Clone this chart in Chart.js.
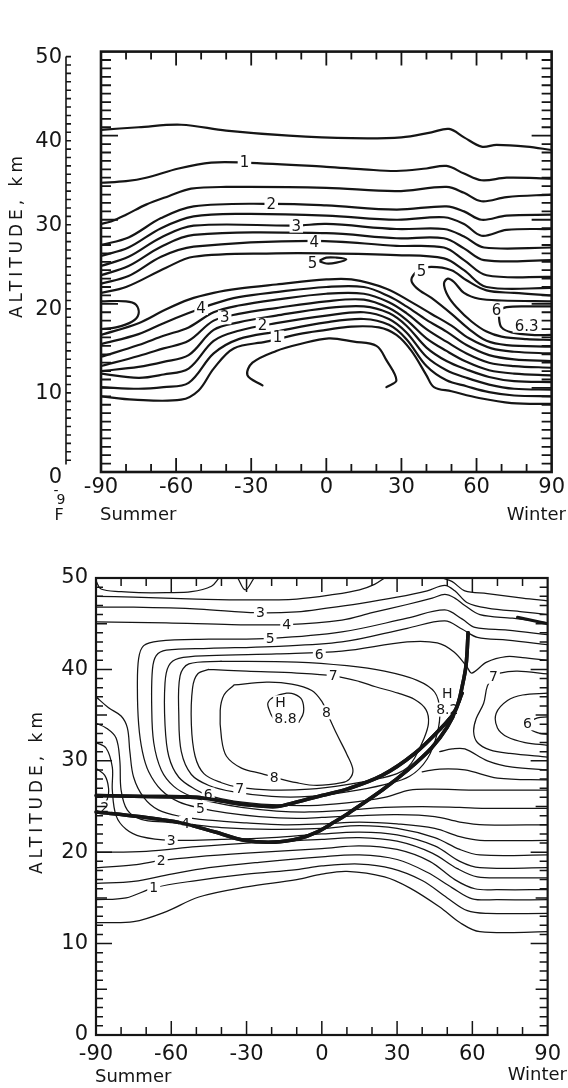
<!DOCTYPE html>
<html>
<head>
<meta charset="utf-8">
<script src="https://cdn.jsdelivr.net/npm/chart.js@4.4.1/dist/chart.umd.min.js"></script>
<style>
  body { margin: 0; background: #fff; }
  canvas { display: block; }
</style>
</head>
<body>
<canvas id="topChart" width="568" height="540"></canvas>
<canvas id="bottomChart" width="568" height="548"></canvas>
<script>
// axis ticks and texts
const latTicks = [-90, -60, -30, 0, 30, 60, 90];
const altTicks = [0, 10, 20, 30, 40, 50];
const yTitle = 'ALTITUDE, km';
const leftNote = 'Summer';
const rightNote = 'Winter';

// ---- upper panel: contour lines as [latitude, altitude km] ----
const top05 = [[-90,40.7],[-75,41.0],[-58,41.3],[-40,40.6],[-15,40.0],[10,39.7],[30,39.8],[42,40.4],[49,40.8],[55,39.8],[62,38.7],[68,38.9],[80,38.7],[90,38.3]];
const top1 = [[-90,34.4],[-80,34.6],[-72,35.0],[-59,36.1],[-46,36.8],[-33,36.8],[0,36.3],[15,36.0],[28,35.8],[40,36.1],[48,36.4],[55,35.5],[62,34.7],[72,35.0],[90,34.9]];
const top15 = [[-90,29.5],[-86,29.8],[-80,30.6],[-72,31.8],[-63,32.8],[-54,33.7],[-40,33.9],[0,33.8],[28,33.4],[48,33.9],[55,33.2],[62,32.2],[72,32.7],[90,33.0]];
const top2 = [[-90,27.0],[-79,27.9],[-66,30.2],[-53,31.6],[-22,31.9],[0,31.7],[28,31.2],[48,31.6],[55,31.0],[62,30.0],[72,30.5],[90,30.6]];
const top25 = [[-90,25.7],[-79,26.7],[-66,29.0],[-53,30.4],[-33,30.7],[0,30.5],[28,30.0],[47,30.3],[55,29.5],[62,28.1],[72,28.8],[90,28.9]];
const top3 = [[-90,24.5],[-79,25.6],[-66,27.9],[-53,29.3],[-12,29.3],[0,29.5],[28,28.9],[47,28.9],[55,28.0],[63,26.7],[90,26.7]];
const top35 = [[-90,23.4],[-79,24.5],[-66,26.8],[-53,28.2],[0,28.4],[28,27.8],[47,27.8],[55,26.6],[63,25.2],[90,25.2]];
const top4 = [[-90,22.4],[-79,23.3],[-66,25.6],[-53,26.8],[-5,27.5],[28,26.9],[47,26.7],[55,25.2],[64,23.4],[90,23.2]];
const top45 = [[-90,21.3],[-80,22.0],[-64,24.3],[-53,25.6],[-20,26.0],[0,26.0],[28,25.8],[47,25.4],[55,24.0],[64,22.0],[90,21.9]];
const topLeft5 = [[-90,20.3],[-80,20.3],[-76,19.9],[-75,18.8],[-77.5,17.9],[-84,17.2],[-90,17.0]];
const topMid5 = [[-3,25.1],[0,25.5],[4,25.5],[8,25.3],[4,24.9],[0,24.8],[-3,25.1]];
const topRight5 = [[90,21.0],[75,21.3],[64,21.6],[56,22.8],[50,24.0],[42,24.4],[37,24.0],[34,22.9],[36,21.9],[42,20.7],[50,18.8],[57,17.0],[64,15.6],[72,15.1],[90,14.9]];
const topRight55 = [[90,20.3],[70,20.4],[61,20.6],[55,21.3],[51,22.6],[48.5,23.0],[47,22.4],[48.5,21.0],[52,19.6],[58,17.9],[64,16.7],[70,16.1],[80,15.8],[90,15.7]];
const topRight6 = [[90,19.7],[80,19.7],[72,19.6],[69.5,19.2],[69,18.3],[70,17.2],[74,16.6],[82,16.3],[90,16.3]];
const low45 = [[-90,16.3],[-75,17.7],[-65,19.2],[-55,20.5],[-45,21.3],[-35,21.8],[-20,22.3],[0,22.9],[10,22.9],[24,21.8],[34,20.2],[42,18.8],[50,17.4],[57,15.9],[66,14.7],[75,14.3],[90,14.1]];
const low4 = [[-90,15.2],[-75,16.4],[-65,17.7],[-55,18.9],[-45,20.0],[-35,20.8],[-20,21.4],[0,22.0],[15,22.0],[25,20.9],[32,19.7],[40,18.1],[48,16.7],[56,15.1],[65,13.9],[75,13.4],[90,13.2]];
const low35 = [[-90,13.7],[-75,15.1],[-65,16.2],[-55,17.2],[-45,19.0],[-35,19.8],[-20,20.5],[0,21.2],[15,21.2],[25,20.2],[32,18.9],[40,17.0],[48,15.5],[56,14.1],[65,13.0],[75,12.6],[90,12.4]];
const low3 = [[-90,12.6],[-75,13.8],[-65,14.7],[-55,15.6],[-45,18.0],[-35,18.8],[-20,19.5],[0,20.3],[15,20.5],[25,19.5],[32,18.1],[40,15.9],[48,14.4],[56,13.1],[65,12.1],[75,11.7],[90,11.5]];
const low25 = [[-90,12.0],[-75,12.5],[-65,13.1],[-55,13.9],[-45,16.9],[-35,17.8],[-20,18.6],[0,19.5],[15,19.7],[25,18.9],[32,17.4],[40,14.8],[48,13.2],[56,12.2],[65,11.3],[75,10.8],[90,10.7]];
const low2 = [[-90,11.7],[-75,11.2],[-65,11.6],[-55,12.3],[-45,15.6],[-35,16.8],[-20,17.7],[0,18.6],[15,19.0],[25,18.2],[32,16.6],[40,13.7],[48,12.1],[56,11.2],[65,10.4],[75,9.9],[90,9.8]];
const low15 = [[-90,10.1],[-75,9.9],[-65,10.1],[-55,10.6],[-45,14.1],[-35,15.8],[-20,16.7],[0,17.8],[15,18.2],[25,17.5],[32,15.8],[40,12.6],[48,10.9],[56,10.2],[65,9.5],[75,9.1],[90,9.0]];
const low1 = [[-90,9.0],[-77,8.6],[-58,8.6],[-51,9.7],[-45,12.3],[-37,14.7],[-24,15.5],[-11,16.4],[0,16.9],[10,17.3],[21,17.2],[28,16.3],[34,14.4],[40,11.5],[43,10.1],[50,9.6],[61,8.8],[74,8.2],[90,8.1]];
const low05 = [[24,10.1],[28,10.9],[24,13.3],[20,15.0],[11,15.5],[1,15.9],[-10.8,15.2],[-20,14.4],[-29.5,13.0],[-31.5,11.5],[-25.5,10.3]];
const topLabels = [[-32.7,36.8,'1'],[-22,31.9,'2'],[-12,29.3,'3'],[-4.8,27.4,'4'],[-5.5,24.8,'5'],[38,23.9,'5'],
  [-50,19.5,'4'],[-40.6,18.4,'3'],[-25.5,17.5,'2'],[-19.5,16.0,'1'],[68,19.3,'6'],[80,17.4,'6.3']];

// ---- lower panel ----
const botWave = [[-90,49.7],[-88,48.8],[-80,48.5],[-73,48.4],[-62,48.4],[-52,48.5],[-44,49.1],[-41,50]];
const botV = [[-33.5,50],[-30.5,48.7],[-27,50]];
const bot2a = [[-90,48.0],[-75,47.9],[-50,47.7],[-30,47.6],[-10,47.7],[5,48.2],[15,48.7],[21,49.3],[25,50]];
const bot2b = [[48,50],[52,49.6],[57,48.6],[66,48.3],[80,47.8],[90,47.5]];
const bot3 = [[-90,46.8],[-75,46.8],[-49,46.6],[-26,46.2],[-10,46.3],[2,46.7],[15,47.2],[30,47.9],[42,48.6],[49,49.2],[53,48.6],[58,47.3],[66,46.7],[80,46.3],[90,46.0]];
const bot4 = [[-90,45.2],[-62,45.1],[-36,44.9],[-14,44.9],[8,45.4],[20,46.2],[34,47.1],[44,47.8],[49,48.2],[53,47.8],[57,47.0],[63,46.0],[76,45.6],[90,45.1]];
const bot5 = [[90,43.8],[74,44.3],[61,44.6],[56,45.5],[49,46.5],[34,45.6],[8,44.1],[-20,43.4],[-45,43.3],[-65,43.1],[-71,42.6],[-73,41.2],[-73.5,38],[-73,34],[-71.5,31],[-69,28.8],[-64,26.8],[-57,25.5],[-48,24.8],[-38,24.3],[-25,23.9],[-10,23.7],[0,23.8],[15,24.0],[30,24.1],[45,23.9],[55,23.3],[65,23.0],[90,23.0]];
const bot55 = [[90,42.7],[74,43.2],[62,43.5],[56,44.4],[49,45.3],[34,44.5],[8,43.0],[-20,42.5],[-45,42.3],[-62,42.1],[-66,41.5],[-67.5,40],[-67.8,36],[-67,32],[-64,29],[-59,27.2],[-52,26.1],[-44,25.5],[-32,24.9],[-18,24.5],[-5,24.4],[10,24.6],[25,24.9],[40,25.0],[55,24.9],[65,24.8],[90,24.8]];
const bot6 = [[90,41.0],[80,41.3],[73.5,41.4],[65.7,40.8],[59.8,39.6],[57.8,40.3],[52.7,41.9],[46,42.9],[34,43.0],[8,42.0],[-18,41.7],[-45,41.5],[-57,41.2],[-61,40.4],[-62.5,38.5],[-62.5,34],[-61,30.5],[-57,28.2],[-50,26.8],[-45,26.2],[-35,25.6],[-20,25.2],[-5,25.1],[10,25.4],[25,26.0],[35,26.8],[45,26.9],[60,26.8],[90,26.8]];
const bot65 = [[-40,40.9],[-53,40.6],[-56.5,39.3],[-57,35],[-56,31],[-52,28.5],[-45,27.3],[-35,26.6],[-20,26.1],[-5,26.1],[10,26.6],[25,27.4],[35,28.3],[42,30.2],[46,33],[47,35.5],[45,37.5],[38,38.8],[25,39.8],[10,40.4],[-10,40.8],[-40,40.9]];
const bot7 = [[-45,40.0],[-49.5,39.5],[-51.5,38],[-52,34],[-50.5,30.5],[-47,28.6],[-40,27.6],[-33,27.1],[-20,26.8],[-5,26.9],[10,27.4],[22,28.0],[30,28.6],[34.3,29.3],[37,30.3],[40.5,32.3],[42.5,34.1],[41.5,35.6],[37,36.7],[30.4,37.4],[21.4,38.1],[14.7,38.7],[4.5,39.3],[-10,39.6],[-30,39.8],[-45,40.0]];
const bot8 = [[-35,38.3],[-39,37.2],[-40.5,35.5],[-40,32.5],[-38,30.5],[-32,29.2],[-24,28.6],[-19,28.2],[-10,27.6],[-2,27.3],[8,27.6],[11,28.0],[12.4,29.0],[10,30.7],[6,32.9],[2,35.3],[0,36.5],[-4,37.7],[-12,38.4],[-22,38.6],[-35,38.3]];
const bot88 = [[-9.2,34.2],[-7.3,35.3],[-8,36.7],[-11,37.3],[-14,37.4],[-19,37],[-21.5,36.3],[-20.6,35.3],[-19.5,34.7]];
const botB8 = [[-90,37.0],[-85,35.8],[-80,34.9],[-77.5,33.6],[-76.5,31],[-75,28.2],[-71,26.0],[-65,24.6],[-56,23.9],[-45,23.5],[-30,23.2],[-15,23.0],[0,23.1],[15,23.3],[30,23.1],[45,22.6],[55,21.7],[63,21.3],[90,21.3]];
const botB7 = [[-90,34.1],[-86,33.6],[-82,32.5],[-80.5,30],[-80,26.8],[-77.5,24.6],[-72,23.6],[-62,23.3],[-54,23.1],[-40,22.7],[-20,22.5],[0,22.6],[15,22.9],[30,22.6],[45,21.6],[55,20.3],[63,19.7],[90,19.7]];
const botB6 = [[-90,32.0],[-86,31.4],[-83.5,29.3],[-83.5,26.8],[-82,24.0],[-78,22.5],[-72,21.7],[-60,21.3],[-40,21.4],[-20,21.6],[0,22.0],[15,22.2],[30,21.9],[45,20.7],[55,19.0],[63,18.3],[90,18.3]];
const botHook = [[-90,29.2],[-86.5,28.4],[-85,27.0],[-85.5,25.8],[-87.5,25.0]];
const botB5 = [[-90,20.0],[-70,20.1],[-50,20.6],[-30,21.0],[0,21.4],[15,21.6],[30,21.2],[44,19.9],[54,18.2],[62,17.3],[75,17.2],[90,17.2]];
const botB4 = [[-90,18.3],[-75,18.6],[-64,19.1],[-50,19.5],[-30,19.9],[0,20.4],[15,20.7],[30,20.3],[43,19.0],[53,17.0],[61,16.0],[70,15.9],[90,15.9]];
const botB3 = [[-90,16.6],[-75,16.8],[-60,17.6],[-45,18.3],[-25,18.9],[0,19.5],[15,19.7],[30,19.2],[42,17.8],[52,16.1],[60,14.9],[70,14.8],[90,14.8]];
const botB2 = [[-90,14.8],[-78,15.0],[-67,16.1],[-50,16.9],[-30,17.6],[-10,18.1],[0,18.5],[15,18.7],[28,18.2],[40,16.9],[50,15.0],[58,13.6],[66,13.3],[90,13.3]];
const botB1 = [[-90,12.3],[-75,12.4],[-62,13.5],[-49,15.1],[-30,16.2],[-10,17.0],[0,17.6],[10,17.9],[25,17.3],[35,16.1],[47,14.0],[55,12.3],[63,11.3],[90,11.3]];
const botR7 = [[90,39.5],[78,39.8],[71,39.6],[68.5,39.2],[66,38.2],[64.5,36.3],[61.5,34.6],[60.5,33.2],[62,32.0],[67,31.2],[75,30.8],[90,30.4]];
const botR65 = [[90,37.4],[80,37.2],[74,36.6],[69.5,35.2],[70,33.6],[74,32.6],[81,32.0],[90,31.7]];
const botR6 = [[90,34.8],[86,34.7],[82.5,34.1],[83.5,33.4],[87,33.0],[90,32.9]];
const botRl1 = [[47,31.0],[52,31.3],[57,31.3],[66,30.0],[76,29.3],[90,29.0]];
const botRl2 = [[40,28.8],[47,29.1],[57,29.0],[70,28.1],[90,27.9]];
const thickA = [[-90,26.2],[-70,26.1],[-50,26.0],[-40,25.6],[-30,25.2],[-18,25.0],[-10,25.5],[0,26.2],[10,26.9],[24,28.4],[37,30.8],[47.6,33.6],[52.7,35.3],[55.9,37.4]];
const thickB = [[-90,24.4],[-73,23.9],[-56,23.2],[-42.5,22.2],[-31,21.3],[-19,21.1],[-9,21.5],[-2,22.2],[5,23.3],[10.8,24.3],[24.1,26.8],[34.3,29.0],[43.7,31.4],[50,33.7],[53.9,35.9],[56,38.2],[57.5,40.5],[58.3,44.0]];
const thickEdge = [[78,45.7],[90,45.0]];
const botLabels = [[-24.5,46.2,'3'],[-14,44.9,'4'],[-20.6,43.4,'5'],[-1,41.7,'6'],[4.5,39.3,'7'],
  [-16.5,36.4,'H'],[-14.5,34.6,'8.8'],[1.8,35.3,'8'],[-19,28.2,'8'],[-32.7,27.0,'7'],[-45.3,26.3,'6'],
  [-48.4,24.8,'5'],[-54.3,23.2,'4'],[-60,21.3,'3'],[-64,19.1,'2'],[-67,16.1,'1'],
  [50,37.4,'H'],[50,35.6,'8.2'],[68.4,39.2,'7'],[82,34.1,'6'],[-86.5,24.9,'2']];

const INK = '#151515';
const FONT = 'DejaVu Sans';

// frame, inward ticks, contour labels and side texts
const framePlugin = {
  id: 'frame',
  afterDatasetsDraw(chart, args, o) {
    const { ctx, chartArea: a } = chart;
    const x = chart.scales.x, y = chart.scales.y;
    ctx.save();
    ctx.strokeStyle = INK;
    ctx.fillStyle = INK;

    // contour values sit in white gaps
    ctx.font = o.labelFont;
    ctx.textAlign = 'center';
    ctx.textBaseline = 'middle';
    o.labels.forEach(([lat, alt, text]) => {
      const px = x.getPixelForValue(lat), py = y.getPixelForValue(alt);
      const w = ctx.measureText(text).width + 4;
      ctx.fillStyle = '#fff';
      ctx.fillRect(px - w / 2, py - 7, w, 14);
      ctx.fillStyle = INK;
      ctx.fillText(text, px, py + 1);
    });

    // tropopause lines stay on top of the labels
    chart.data.datasets.forEach((ds, i) => {
      if (ds.thick) chart.getDatasetMeta(i).controller.draw();
    });

    ctx.lineWidth = o.boxWidth;
    ctx.strokeRect(a.left, a.top, a.right - a.left, a.bottom - a.top);

    ctx.lineWidth = o.tickWidth;
    ctx.beginPath();
    for (let v = 1; v < 50; v++) {
      const py = y.getPixelForValue(v);
      const k = v % 10 === 0 ? 2 : (v % 5 === 0 ? 1 : 0);
      ctx.moveTo(a.left, py); ctx.lineTo(a.left + o.leftTicks[k], py);
      ctx.moveTo(a.right, py); ctx.lineTo(a.right - o.rightTicks[k], py);
    }
    for (let v = -80; v <= 80; v += 10) {
      const px = x.getPixelForValue(v);
      const len = v % 30 === 0 ? o.latTicks[1] : o.latTicks[0];
      ctx.moveTo(px, a.top); ctx.lineTo(px, a.top + len);
      ctx.moveTo(px, a.bottom); ctx.lineTo(px, a.bottom - len);
    }
    ctx.stroke();

    // separate altitude scale bar (upper panel)
    if (o.sideAxisX) {
      ctx.lineWidth = 1.6;
      ctx.beginPath();
      ctx.moveTo(o.sideAxisX, y.getPixelForValue(50) + o.sideShift);
      ctx.lineTo(o.sideAxisX, y.getPixelForValue(1.5) + o.sideShift);
      for (let v = 2; v <= 50; v++) {
        const py = y.getPixelForValue(v) + o.sideShift;
        ctx.moveTo(o.sideAxisX, py); ctx.lineTo(o.sideAxisX + 5, py);
      }
      ctx.stroke();
    }

    // axis title
    ctx.save();
    ctx.translate(o.titleX, o.titleY);
    ctx.rotate(-Math.PI / 2);
    ctx.font = '17px ' + FONT;
    ctx.letterSpacing = '4px';
    ctx.textAlign = 'center';
    ctx.fillText(yTitle, 0, 0);
    ctx.restore();

    ctx.font = '18px ' + FONT;
    ctx.textAlign = 'left';
    ctx.fillText(leftNote, o.summer[0], o.summer[1]);
    ctx.textAlign = 'right';
    ctx.fillText(rightNote, o.winter[0], o.winter[1]);

    (o.extras || []).forEach(([text, px, py, size]) => {
      ctx.font = size + 'px ' + FONT;
      ctx.textAlign = 'center';
      ctx.fillText(text, px, py);
    });
    ctx.restore();
  }
};

function contourChart(id, lines, look) {
  const datasets = lines.map(([pts, w]) => ({
    data: pts.map(([lat, alt]) => ({ x: lat, y: alt })),
    showLine: true,
    pointRadius: 0,
    borderColor: INK,
    borderWidth: w,
    tension: 0.35,
    borderCapStyle: 'round',
    borderJoinStyle: 'round',
    thick: w > 3
  }));
  const tickFont = { family: FONT, size: 21 };
  return new Chart(document.getElementById(id), {
    type: 'scatter',
    data: { datasets },
    options: {
      responsive: false,
      animation: false,
      devicePixelRatio: 1,
      layout: { padding: look.padding },
      plugins: {
        legend: { display: false },
        tooltip: { enabled: false },
        frame: look.frame
      },
      scales: {
        x: {
          type: 'linear', min: -90, max: 90,
          afterBuildTicks: axis => { axis.ticks = latTicks.map(v => ({ value: v })); },
          afterFit: axis => { axis.height = look.xHeight; },
          grid: { display: false, drawTicks: false },
          border: { display: false },
          ticks: { font: tickFont, color: INK, padding: look.xPad, maxRotation: 0 }
        },
        y: {
          type: 'linear', min: 0, max: 50,
          afterBuildTicks: axis => { axis.ticks = altTicks.map(v => ({ value: v })); },
          afterFit: axis => { axis.width = look.yWidth; },
          grid: { display: false, drawTicks: false },
          border: { display: false },
          ticks: { font: tickFont, color: INK, padding: look.yPad, labelOffset: look.yOffset }
        }
      }
    },
    plugins: [framePlugin]
  });
}

const T = 2.2;
contourChart('topChart', [
  [top05, T], [top1, T], [top15, T], [top2, T], [top25, T], [top3, T], [top35, T], [top4, T], [top45, T],
  [topLeft5, T], [topMid5, T], [topRight5, T], [topRight55, T], [topRight6, T],
  [low45, T], [low4, T], [low35, T], [low3, T], [low25, T], [low2, T], [low15, T], [low1, T], [low05, T]
], {
  padding: { top: 15, right: 15, left: 0, bottom: 0 },
  xHeight: 68, yWidth: 101, xPad: 3, yPad: 39, yOffset: 6,
  frame: {
    labels: topLabels, labelFont: '15px ' + FONT,
    boxWidth: 2.6, tickWidth: 1.8,
    leftTicks: [10, 10, 17], rightTicks: [10, 10, 20], latTicks: [8, 14],
    sideAxisX: 66, sideShift: 5,
    titleX: 18, titleY: 235,
    summer: [100, 515], winter: [566, 515],
    extras: [['-', 56, 491, 14], ['9', 61, 500, 14], ['F', 59, 516, 16]]
  }
});

const t = 1.25, K = 3.6;
contourChart('bottomChart', [
  [botWave, t], [botV, t], [bot2a, t], [bot2b, t], [bot3, t], [bot4, t],
  [bot5, t], [bot55, t], [bot6, t], [bot65, t], [bot7, t], [bot8, t], [bot88, t],
  [botB8, t], [botB7, t], [botB6, t], [botHook, t], [botB5, t], [botB4, t], [botB3, t], [botB2, t], [botB1, t],
  [botR7, t], [botR65, t], [botR6, t], [botRl1, t], [botRl2, t],
  [thickA, K], [thickB, K], [thickEdge, 3]
], {
  padding: { top: 38, right: 13, left: 0, bottom: 0 },
  xHeight: 53, yWidth: 96, xPad: 7, yPad: 8, yOffset: 0,
  frame: {
    labels: botLabels, labelFont: '14px ' + FONT,
    boxWidth: 2.2, tickWidth: 1.5,
    leftTicks: [7, 11, 16], rightTicks: [8, 12, 17], latTicks: [8, 14],
    sideAxisX: 0, sideShift: 0,
    titleX: 38, titleY: 251,
    summer: [95, 537], winter: [567, 535]
  }
});
</script>
</body>
</html>
